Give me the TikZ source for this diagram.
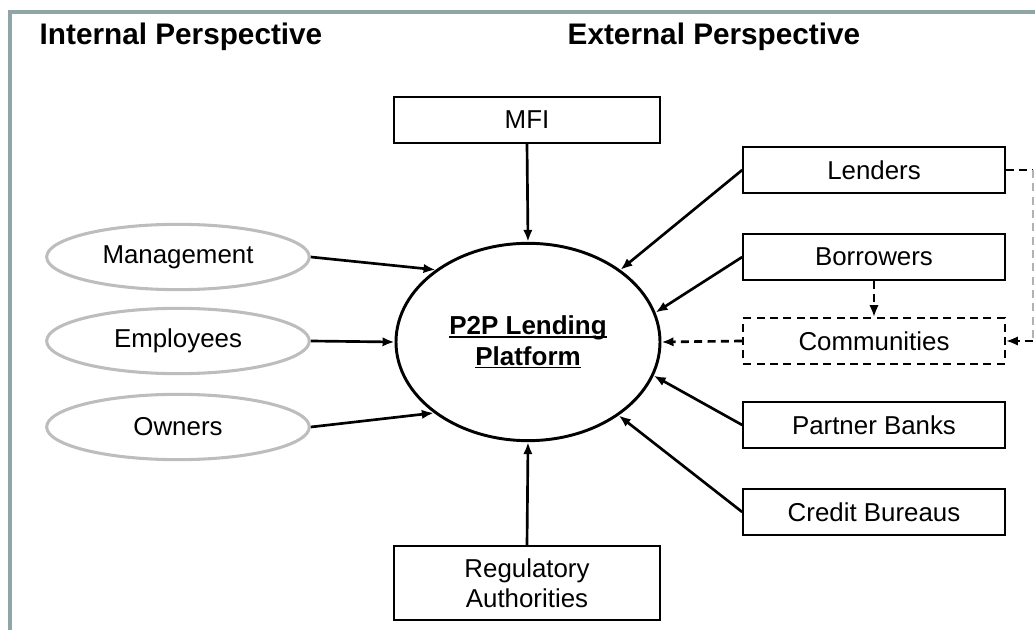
\documentclass[tikz,border=0pt]{standalone}
\usepackage{fontspec}
\setmainfont{Liberation Sans}
\usepackage{tikz}
\usetikzlibrary{positioning,shapes.geometric,arrows.meta}

\definecolor{framegray}{HTML}{8FA5A6}
\definecolor{ovalgray}{HTML}{BDBDBD}

% underline drawn just below the baseline
\newcommand{\hubul}[1]{\setbox0\hbox{#1}\rlap{\rule[-2.6pt]{\wd0}{1.4pt}}\box0}

\begin{document}
\begin{tikzpicture}[x=0.75pt, y=-0.75pt,
	txt/.style={font=\fontsize{19.4}{22.5}\selectfont},
	box/.style={draw, line width=1.7pt, minimum width=196pt, minimum height=34pt, inner sep=0pt, txt},
	dbox/.style={box, dash pattern=on 6pt off 4pt},
	oval/.style={ellipse, draw=ovalgray, line width=2.3pt, minimum width=197pt, minimum height=49pt, inner sep=0pt, txt},
	hub/.style={ellipse, draw, line width=2.2pt, minimum width=198pt, minimum height=148pt, inner sep=0pt, align=center, font=\bfseries\fontsize{19.5}{23}\selectfont},
	link/.style={-{Latex[length=9pt,width=7pt]}, line width=2pt},
	dlink/.style={link, dash pattern=on 6pt off 4pt},
	head/.style={anchor=west, font=\bfseries\fontsize{22.3}{26}\selectfont}
	]
	
	% Khung ngoai
	\useasboundingbox (0,0) rectangle (1035,630);
	\draw[framegray, line width=3.2pt] (10,645) -- (10,12) -- (1050,12);
	
	% --- TIEU DE ---
	\node[head] (inner) at (35,37) {Internal Perspective};
	\node[head] (outer) at (563,37) {External Perspective};
	
	% --- NUT TRUNG TAM ---
	\node[hub] (hub) at (528,342) {\hubul{P2P Lending}\\\hubul{Platform}};
	
	% --- BEN TRONG (ellipse xam) ---
	\node[oval] (mgmt) at (178,257) {Management};
	\node[oval] (staff) at (178,341) {Employees};
	\node[oval] (own) at (178,427) {Owners};
	
	% --- BEN NGOAI (hop) ---
	\node[box, minimum width=199pt] (mfi) at (527,120) {MFI};
	\node[box] (lend) at (874,170) {Lenders};
	\node[box] (borr) at (874,257) {Borrowers};
	\node[dbox] (comm) at (874,341) {Communities};
	\node[box] (bank) at (874,425) {Partner Banks};
	\node[box] (bureau) at (874,512) {Credit Bureaus};
	\node[box, minimum width=199pt, minimum height=55pt, align=center] (reg) at (527,583) {Regulatory\\Authorities};
	
	% --- MUI TEN ---
	\draw[link] (mgmt.east) -- (hub.142);
	\draw[link] (staff.east) -- (hub.west);
	\draw[link] (own.east) -- (hub.217);
	\draw[link] (mfi.south) -- (hub.north);
	\draw[link] (reg.north) -- (hub.south);
	\draw[link] (lend.west) -- (hub.38);
	\draw[link] (borr.west) -- (hub.13);
	\draw[dlink] (comm.west) -- (hub.east);
	\draw[link] (bank.west) -- (hub.-15);
	\draw[link] (bureau.west) -- (hub.-39);
	\draw[dlink] (borr.south) -- (comm.north);
	
	% Lenders -> Communities (vong ben phai)
	\coordinate (lturn) at (1033,170);
	\coordinate (cturn) at (1033,341);
	\draw[line width=2pt, dash pattern=on 6pt off 4pt] (lend.east) -- (lturn);
	\draw[line width=1pt, gray!60, dash pattern=on 6pt off 4pt] (lturn) -- (cturn);
	\draw[dlink] (cturn) -- (comm.east);
	
\end{tikzpicture}
\end{document}
